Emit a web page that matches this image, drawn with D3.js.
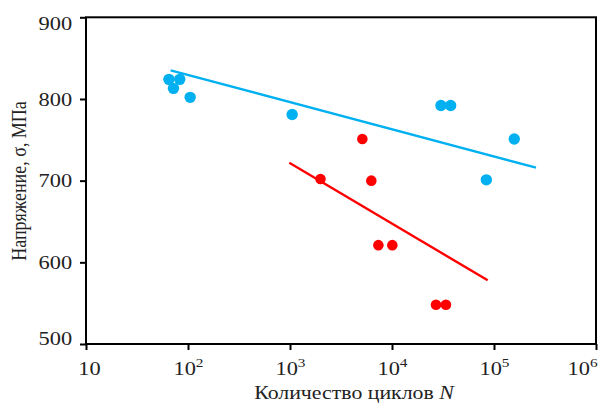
<!DOCTYPE html>
<html>
<head>
<meta charset="utf-8">
<script src="https://cdn.jsdelivr.net/npm/d3@7"></script>
<style>
  body { margin: 0; background: #fff; }
  text { font-family: "Liberation Serif", "Times New Roman", serif; fill: #222; }
</style>
</head>
<body>
<svg id="chart"></svg>
<script>
// data
var blueN = [65, 83, 72, 105, 1050, 30200, 37600, 158000, 84100];
var blueS = [824, 824, 813, 802, 781, 792, 792, 751, 701];
var redN = [1990, 5120, 6270, 7350, 10070, 27000, 33800];
var redS = [702, 751, 700, 621, 621, 548, 548];
// trend lines (end points)
var blueLineN = [67.6, 258000];
var blueLineS = [835, 716];
var redLineN = [984, 86700];
var redLineS = [722, 578];

var xTicks = [10, 100, 1000, 10000, 100000, 1000000];
var yTicks = [500, 600, 700, 800, 900];

var width = 600, height = 403;
var margin = {top: 17.3, right: 4, bottom: 59, left: 86};
var stretch = 1.18; // the original text is a bit wide

var svg = d3.select("#chart")
    .attr("width", width)
    .attr("height", height);

var x = d3.scaleLog().domain([10, 1e6]).range([margin.left, width - margin.right]);
var y = d3.scaleLinear().domain([500, 900]).range([height - margin.bottom, margin.top]);

var blue = "#00b0f0", red = "#ff0000";

// lines
function drawLine(ns, ss, col) {
    var pts = ns.map(function(n, i) { return [n, ss[i]]; });
    svg.append("path")
        .datum(pts)
        .attr("fill", "none")
        .attr("stroke", col)
        .attr("stroke-width", 2.4)
        .attr("d", d3.line().x(d => x(d[0])).y(d => y(d[1])));
}
drawLine(blueLineN, blueLineS, blue);
drawLine(redLineN, redLineS, red);

// points
function drawPoints(ns, ss, col, r) {
    svg.append("g").selectAll("circle")
        .data(ns.map(function(n, i) { return [n, ss[i]]; }))
        .enter().append("circle")
        .attr("cx", d => x(d[0]))
        .attr("cy", d => y(d[1]))
        .attr("r", r)
        .attr("fill", col);
}
drawPoints(blueN, blueS, blue, 5.7);
drawPoints(redN, redS, red, 5.3);

// frame
svg.append("rect")
    .attr("x", x.range()[0])
    .attr("y", y.range()[1])
    .attr("width", x.range()[1] - x.range()[0])
    .attr("height", y.range()[0] - y.range()[1])
    .attr("fill", "none")
    .attr("stroke", "#000")
    .attr("stroke-width", 2);

// y axis
var yAxis = svg.append("g")
    .attr("transform", "translate(" + margin.left + ",0)")
    .call(d3.axisLeft(y).tickValues(yTicks).tickSize(6).tickPadding(5.8));
yAxis.select(".domain").remove();
yAxis.selectAll("line").attr("stroke", "#000").attr("stroke-width", 2);
yAxis.selectAll("text")
    .style("font-size", "19px")
    .attr("fill", "#222")
    .attr("transform", "scale(" + stretch + ",1)")
    .attr("dy", function(d) { return d == 900 ? "0.62em" : d == 500 ? "0.0em" : "0.32em"; });

// x axis
var xAxis = svg.append("g")
    .attr("transform", "translate(0," + y.range()[0] + ")")
    .call(d3.axisBottom(x).tickValues(xTicks).tickSize(6).tickFormat(""));
xAxis.select(".domain").remove();
xAxis.selectAll("line").attr("stroke", "#000").attr("stroke-width", 2);
xAxis.selectAll(".tick").each(function(d) {
    var e = Math.round(Math.log10(d));
    var t = d3.select(this).append("text")
        .attr("y", 31)
        .attr("fill", "#222")
        .style("font-size", "19px")
        .attr("transform", "scale(" + stretch + ",1)")
        .attr("text-anchor", e == 6 ? "end" : "middle")
        .attr("x", e == 1 ? 2.5 : e == 6 ? 1 : 0);
    t.append("tspan").text("10");
    if (e > 1) {
        t.append("tspan").text(e)
            .attr("dy", -8)
            .style("font-size", "13px");
    }
});

// axis titles
var xt = svg.append("text")
    .attr("transform", "translate(354,399) scale(" + stretch + ",1)")
    .attr("text-anchor", "middle")
    .style("font-size", "18.5px");
xt.append("tspan").text("Количество циклов ");
xt.append("tspan").text("N").style("font-style", "italic");

svg.append("text")
    .attr("transform", "translate(26,181) rotate(-90) scale(1," + stretch + ")")
    .attr("text-anchor", "middle")
    .style("font-size", "18px")
    .text("Напряжение, σ, МПа");
</script>
</body>
</html>
